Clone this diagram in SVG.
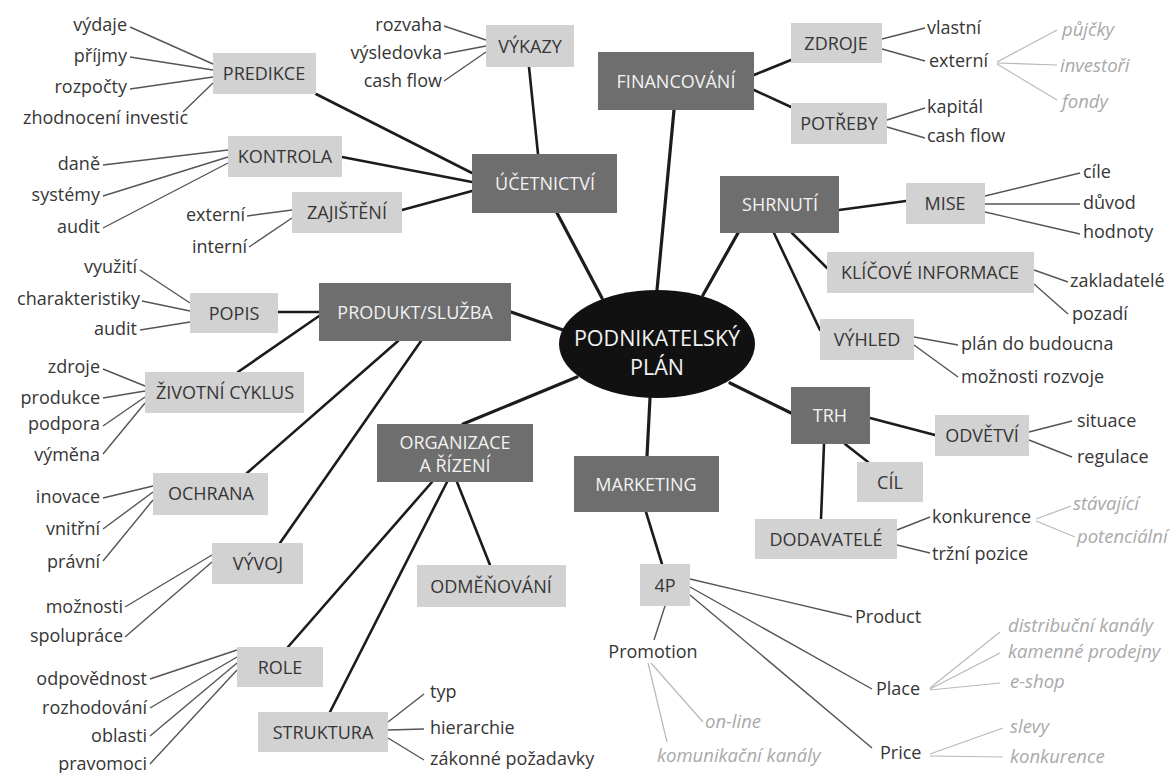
<svg xmlns="http://www.w3.org/2000/svg" width="1173" height="773" viewBox="0 0 1173 773">
<style>
text{font-family:"Open Sans","Noto Sans","DejaVu Sans",sans-serif;font-size:18px;fill:#363636}
.dk rect{fill:#6e6e6e}
.dk text{fill:#f2f2f2;text-anchor:middle}
.lt rect{fill:#d2d2d2}
.lt text{fill:#363636;text-anchor:middle}
.e{text-anchor:end}
.s{text-anchor:start}
.m{text-anchor:middle}
.it{font-style:italic;fill:#a9a9a9;font-size:18.5px}
.ct{fill:#f2f2f2;font-size:21.5px;text-anchor:middle}
#connectors .k{stroke:#1c1c1c;stroke-width:3.2;stroke-linecap:round;fill:none}
#connectors .k2{stroke:#1c1c1c;stroke-width:2.6;stroke-linecap:round;fill:none}
#connectors .g{stroke:#555;stroke-width:1.4;fill:none}
#connectors .l{stroke:#b8b8b8;stroke-width:1.2;fill:none}
</style>
<rect width="1173" height="773" fill="#fff"/>
<g id="connectors">
<line class="k" x1="557" y1="213" x2="602" y2="298"/>
<line class="k" x1="674" y1="110" x2="657" y2="290"/>
<line class="k" x1="738" y1="233" x2="703" y2="295"/>
<line class="k" x1="511" y1="312" x2="563" y2="330"/>
<line class="k" x1="463" y1="424" x2="577" y2="377"/>
<line class="k" x1="647" y1="456" x2="650" y2="398"/>
<line class="k" x1="730" y1="383" x2="791" y2="413"/>
<line class="k2" x1="529" y1="67" x2="538" y2="154"/>
<line class="k2" x1="316" y1="94" x2="472" y2="173"/>
<line class="k2" x1="342" y1="157" x2="472" y2="182"/>
<line class="k2" x1="402" y1="210" x2="472" y2="191"/>
<line class="k2" x1="754" y1="75" x2="791" y2="60"/>
<line class="k2" x1="754" y1="90" x2="791" y2="107"/>
<line class="k2" x1="839" y1="210" x2="906" y2="201"/>
<line class="k2" x1="792" y1="233" x2="827" y2="268"/>
<line class="k2" x1="774" y1="233" x2="820" y2="330"/>
<line class="k2" x1="278" y1="312" x2="319" y2="312"/>
<line class="k2" x1="319" y1="316" x2="238" y2="372"/>
<line class="k2" x1="398" y1="341" x2="247" y2="473"/>
<line class="k2" x1="421" y1="341" x2="280" y2="543"/>
<line class="k2" x1="432" y1="482" x2="288" y2="647"/>
<line class="k2" x1="447" y1="482" x2="330" y2="712"/>
<line class="k2" x1="457" y1="482" x2="490" y2="565"/>
<line class="k2" x1="646" y1="512" x2="662" y2="564"/>
<line class="k2" x1="870" y1="418" x2="935" y2="435"/>
<line class="k2" x1="845" y1="444" x2="868" y2="462"/>
<line class="k2" x1="824" y1="444" x2="821" y2="519"/>
<line class="g" x1="130" y1="27" x2="213" y2="64"/>
<line class="g" x1="130" y1="57" x2="213" y2="70"/>
<line class="g" x1="130" y1="89" x2="213" y2="77"/>
<line class="g" x1="183" y1="112" x2="213" y2="83"/>
<line class="g" x1="103" y1="165" x2="228" y2="150"/>
<line class="g" x1="103" y1="196" x2="228" y2="157"/>
<line class="g" x1="103" y1="228" x2="228" y2="163"/>
<line class="g" x1="247" y1="216" x2="292" y2="210"/>
<line class="g" x1="249" y1="247" x2="292" y2="218"/>
<line class="g" x1="444" y1="26" x2="486" y2="40"/>
<line class="g" x1="444" y1="54" x2="486" y2="46"/>
<line class="g" x1="444" y1="81" x2="486" y2="52"/>
<line class="g" x1="882" y1="39" x2="925" y2="28"/>
<line class="g" x1="882" y1="49" x2="925" y2="61"/>
<line class="g" x1="887" y1="120" x2="925" y2="108"/>
<line class="g" x1="887" y1="127" x2="925" y2="138"/>
<line class="g" x1="985" y1="196" x2="1080" y2="173"/>
<line class="g" x1="985" y1="204" x2="1080" y2="204"/>
<line class="g" x1="985" y1="212" x2="1080" y2="234"/>
<line class="g" x1="1034" y1="270" x2="1068" y2="282"/>
<line class="g" x1="1034" y1="284" x2="1068" y2="314"/>
<line class="g" x1="914" y1="337" x2="958" y2="345"/>
<line class="g" x1="914" y1="345" x2="958" y2="377"/>
<line class="g" x1="1029" y1="432" x2="1072" y2="421"/>
<line class="g" x1="1029" y1="440" x2="1072" y2="457"/>
<line class="g" x1="897" y1="530" x2="930" y2="517"/>
<line class="g" x1="897" y1="545" x2="930" y2="553"/>
<line class="g" x1="140" y1="270" x2="190" y2="303"/>
<line class="g" x1="142" y1="301" x2="190" y2="311"/>
<line class="g" x1="140" y1="330" x2="190" y2="322"/>
<line class="g" x1="103" y1="369" x2="145" y2="386"/>
<line class="g" x1="103" y1="398" x2="145" y2="391"/>
<line class="g" x1="103" y1="426" x2="145" y2="397"/>
<line class="g" x1="103" y1="454" x2="145" y2="403"/>
<line class="g" x1="103" y1="498" x2="153" y2="486"/>
<line class="g" x1="103" y1="529" x2="153" y2="492"/>
<line class="g" x1="103" y1="561" x2="153" y2="500"/>
<line class="g" x1="125" y1="607" x2="212" y2="555"/>
<line class="g" x1="125" y1="637" x2="212" y2="562"/>
<line class="g" x1="150" y1="679" x2="237" y2="650"/>
<line class="g" x1="150" y1="708" x2="237" y2="657"/>
<line class="g" x1="150" y1="736" x2="237" y2="663"/>
<line class="g" x1="150" y1="764" x2="237" y2="670"/>
<line class="g" x1="388" y1="722" x2="424" y2="694"/>
<line class="g" x1="388" y1="730" x2="424" y2="729"/>
<line class="g" x1="388" y1="738" x2="424" y2="760"/>
<line class="g" x1="665" y1="606" x2="654" y2="640"/>
<line class="g" x1="690" y1="579" x2="852" y2="617"/>
<line class="g" x1="690" y1="587" x2="872" y2="689"/>
<line class="g" x1="690" y1="595" x2="872" y2="748"/>
<line class="l" x1="997" y1="62" x2="1057" y2="30"/>
<line class="l" x1="997" y1="63" x2="1057" y2="65"/>
<line class="l" x1="997" y1="64" x2="1057" y2="100"/>
<line class="l" x1="1036" y1="519" x2="1071" y2="506"/>
<line class="l" x1="1036" y1="521" x2="1075" y2="537"/>
<line class="l" x1="651" y1="663" x2="703" y2="722"/>
<line class="l" x1="648" y1="663" x2="667" y2="742"/>
<line class="l" x1="930" y1="688" x2="1000" y2="632"/>
<line class="l" x1="930" y1="689" x2="1000" y2="653"/>
<line class="l" x1="930" y1="690" x2="1000" y2="683"/>
<line class="l" x1="930" y1="754" x2="1003" y2="728"/>
<line class="l" x1="930" y1="756" x2="1003" y2="757"/>
</g>

<g id="center"><ellipse cx="657" cy="344" rx="98" ry="54" fill="#111"/>
<text x="657" y="346" class="ct">PODNIKATELSKÝ</text>
<text x="657" y="375" class="ct">PLÁN</text></g>

<g id="financovani" class="dk"><rect x="598" y="52" width="156" height="58"/><text x="676" y="88">FINANCOVÁNÍ</text></g>
<g id="ucetnictvi" class="dk"><rect x="472" y="154" width="145" height="59"/><text x="545" y="190">ÚČETNICTVÍ</text></g>
<g id="shrnuti" class="dk"><rect x="720" y="176" width="119" height="57"/><text x="780" y="211">SHRNUTÍ</text></g>
<g id="produkt" class="dk"><rect x="319" y="283" width="192" height="58"/><text x="415" y="319">PRODUKT/SLUŽBA</text></g>
<g id="organizace" class="dk"><rect x="377" y="424" width="156" height="58"/><text x="455" y="449">ORGANIZACE</text><text x="455" y="472">A ŘÍZENÍ</text></g>
<g id="marketing" class="dk"><rect x="574" y="456" width="145" height="56"/><text x="646" y="491">MARKETING</text></g>
<g id="trh" class="dk"><rect x="791" y="387" width="79" height="57"/><text x="830" y="422">TRH</text></g>

<g id="vykazy" class="lt"><rect x="486" y="25" width="88" height="42"/><text x="530" y="53">VÝKAZY</text></g>
<g id="predikce" class="lt"><rect x="213" y="53" width="103" height="41"/><text x="264" y="80">PREDIKCE</text></g>
<g id="kontrola" class="lt"><rect x="228" y="136" width="114" height="41"/><text x="285" y="163">KONTROLA</text></g>
<g id="zajisteni" class="lt"><rect x="292" y="192" width="110" height="41"/><text x="347" y="219">ZAJIŠTĚNÍ</text></g>
<g id="zdroje" class="lt"><rect x="791" y="23" width="91" height="40"/><text x="836" y="50">ZDROJE</text></g>
<g id="potreby" class="lt"><rect x="791" y="103" width="96" height="41"/><text x="839" y="130">POTŘEBY</text></g>
<g id="mise" class="lt"><rect x="906" y="183" width="79" height="41"/><text x="945" y="210">MISE</text></g>
<g id="klicove" class="lt"><rect x="827" y="252" width="207" height="41"/><text x="930" y="279">KLÍČOVÉ INFORMACE</text></g>
<g id="vyhled" class="lt"><rect x="820" y="319" width="94" height="41"/><text x="867" y="346">VÝHLED</text></g>
<g id="odvetvi" class="lt"><rect x="935" y="415" width="94" height="41"/><text x="982" y="442">ODVĚTVÍ</text></g>
<g id="cil" class="lt"><rect x="857" y="462" width="66" height="40"/><text x="890" y="489">CÍL</text></g>
<g id="dodavatele" class="lt"><rect x="755" y="519" width="142" height="40"/><text x="826" y="546">DODAVATELÉ</text></g>
<g id="popis" class="lt"><rect x="190" y="293" width="88" height="40"/><text x="234" y="320">POPIS</text></g>
<g id="zivotni" class="lt"><rect x="145" y="372" width="159" height="41"/><text x="225" y="399">ŽIVOTNÍ CYKLUS</text></g>
<g id="ochrana" class="lt"><rect x="153" y="473" width="115" height="42"/><text x="211" y="500">OCHRANA</text></g>
<g id="vyvoj" class="lt"><rect x="212" y="543" width="91" height="41"/><text x="258" y="570">VÝVOJ</text></g>
<g id="role" class="lt"><rect x="237" y="647" width="86" height="40"/><text x="280" y="674">ROLE</text></g>
<g id="struktura" class="lt"><rect x="258" y="712" width="130" height="40"/><text x="323" y="739">STRUKTURA</text></g>
<g id="odmenovani" class="lt"><rect x="417" y="565" width="149" height="42"/><text x="491" y="593">ODMĚŇOVÁNÍ</text></g>
<g id="p4" class="lt"><rect x="640" y="564" width="50" height="42"/><text x="665" y="592">4P</text></g>

<g id="leaves-left">
<g id="l-vydaje"><text x="127" y="31" class="e">výdaje</text></g>
<g id="l-prijmy"><text x="127" y="62" class="e">příjmy</text></g>
<g id="l-rozpocty"><text x="127" y="93" class="e">rozpočty</text></g>
<g id="l-zhodnoceni"><text x="188" y="124" class="e">zhodnocení investic</text></g>
<g id="l-dane"><text x="100" y="170" class="e">daně</text></g>
<g id="l-systemy"><text x="100" y="201" class="e">systémy</text></g>
<g id="l-audit1"><text x="100" y="233" class="e">audit</text></g>
<g id="l-externi1"><text x="245" y="221" class="e">externí</text></g>
<g id="l-interni"><text x="247" y="253" class="e">interní</text></g>
<g id="l-rozvaha"><text x="442" y="31" class="e">rozvaha</text></g>
<g id="l-vysledovka"><text x="442" y="59" class="e">výsledovka</text></g>
<g id="l-cashflow1"><text x="442" y="87" class="e">cash flow</text></g>
<g id="l-vyuziti"><text x="137" y="273" class="e">využití</text></g>
<g id="l-charakteristiky"><text x="140" y="305" class="e">charakteristiky</text></g>
<g id="l-audit2"><text x="137" y="335" class="e">audit</text></g>
<g id="l-zdroje"><text x="100" y="373" class="e">zdroje</text></g>
<g id="l-produkce"><text x="100" y="404" class="e">produkce</text></g>
<g id="l-podpora"><text x="100" y="430" class="e">podpora</text></g>
<g id="l-vymena"><text x="100" y="461" class="e">výměna</text></g>
<g id="l-inovace"><text x="100" y="503" class="e">inovace</text></g>
<g id="l-vnitrni"><text x="100" y="535" class="e">vnitřní</text></g>
<g id="l-pravni"><text x="100" y="568" class="e">právní</text></g>
<g id="l-moznosti"><text x="123" y="613" class="e">možnosti</text></g>
<g id="l-spoluprace"><text x="123" y="642" class="e">spolupráce</text></g>
<g id="l-odpovednost"><text x="147" y="685" class="e">odpovědnost</text></g>
<g id="l-rozhodovani"><text x="147" y="714" class="e">rozhodování</text></g>
<g id="l-oblasti"><text x="147" y="742" class="e">oblasti</text></g>
<g id="l-pravomoci"><text x="147" y="770" class="e">pravomoci</text></g>
</g>
<g id="leaves-right">
<g id="l-vlastni"><text x="927" y="34">vlastní</text></g>
<g id="l-externi2"><text x="929" y="67">externí</text></g>
<g id="l-pujcky"><text x="1062" y="36" class="it">půjčky</text></g>
<g id="l-investori"><text x="1060" y="72" class="it">investoři</text></g>
<g id="l-fondy"><text x="1062" y="108" class="it">fondy</text></g>
<g id="l-kapital"><text x="927" y="113">kapitál</text></g>
<g id="l-cashflow2"><text x="927" y="142">cash flow</text></g>
<g id="l-cile"><text x="1083" y="178">cíle</text></g>
<g id="l-duvod"><text x="1083" y="209">důvod</text></g>
<g id="l-hodnoty"><text x="1083" y="238">hodnoty</text></g>
<g id="l-zakladatele"><text x="1070" y="287">zakladatelé</text></g>
<g id="l-pozadi"><text x="1072" y="320">pozadí</text></g>
<g id="l-plan"><text x="961" y="350">plán do budoucna</text></g>
<g id="l-moznostirozvoje"><text x="961" y="383">možnosti rozvoje</text></g>
<g id="l-situace"><text x="1077" y="427">situace</text></g>
<g id="l-regulace"><text x="1077" y="463">regulace</text></g>
<g id="l-konkurence1"><text x="932" y="523">konkurence</text></g>
<g id="l-trzni"><text x="932" y="560">tržní pozice</text></g>
<g id="l-stavajici"><text x="1073" y="510" class="it">stávající</text></g>
<g id="l-potencialni"><text x="1077" y="543" class="it">potenciální</text></g>
<g id="l-typ"><text x="430" y="698">typ</text></g>
<g id="l-hierarchie"><text x="430" y="734">hierarchie</text></g>
<g id="l-zakonne"><text x="430" y="765">zákonné požadavky</text></g>
<g id="l-promotion"><text x="653" y="658" class="m">Promotion</text></g>
<g id="l-online"><text x="705" y="728" class="it">on-line</text></g>
<g id="l-komunikacni"><text x="657" y="762" class="it">komunikační kanály</text></g>
<g id="l-product"><text x="855" y="623">Product</text></g>
<g id="l-place"><text x="876" y="695">Place</text></g>
<g id="l-price"><text x="880" y="759">Price</text></g>
<g id="l-distribucni"><text x="1008" y="632" class="it">distribuční kanály</text></g>
<g id="l-kamenne"><text x="1008" y="658" class="it">kamenné prodejny</text></g>
<g id="l-eshop"><text x="1010" y="688" class="it">e-shop</text></g>
<g id="l-slevy"><text x="1010" y="733" class="it">slevy</text></g>
<g id="l-konkurence2"><text x="1010" y="763" class="it">konkurence</text></g>
</g>
</svg>
